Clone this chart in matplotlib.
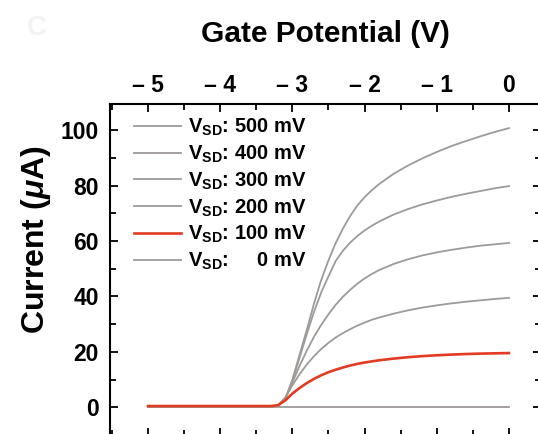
import matplotlib
matplotlib.use("Agg")
import matplotlib.pyplot as plt
from matplotlib.ticker import MultipleLocator, FuncFormatter

plt.rcParams['font.family'] = ['Liberation Sans', 'DejaVu Sans']
plt.rcParams['font.weight'] = 'bold'
plt.rcParams['mathtext.fontset'] = 'custom'
plt.rcParams['mathtext.rm'] = 'Liberation Sans:bold'
plt.rcParams['mathtext.bf'] = 'Liberation Sans:bold'
plt.rcParams['mathtext.it'] = 'Liberation Sans:bold:italic'

# gate potential (V)
gate_v = [-5, -3.3, -3.2, -3.1, -3.0, -2.9, -2.8, -2.7, -2.6, -2.5, -2.4,
          -2.3, -2.2, -2.1, -2.0, -1.9, -1.8, -1.6, -1.4, -1.2, -1.0,
          -0.8, -0.6, -0.4, -0.2, 0]

# current (uA) per source-drain voltage
i_500 = [0.3, 0.3, 0.7, 3, 10, 19, 28, 37.5, 46, 53, 59.3,
         64.5, 69, 72.8, 75.8, 78.3, 80.5, 84.2, 87.2, 89.8, 92.1,
         94.2, 96.0, 97.7, 99.3, 100.7]
i_400 = [0.3, 0.3, 0.7, 3, 9.5, 18, 26.5, 34.5, 41.5, 47.3, 52.8,
         56.5, 59.4, 61.8, 63.8, 65.5, 67.0, 69.5, 71.5, 73.2, 74.6,
         75.9, 77.0, 78.0, 79.0, 79.8]
i_300 = [0.3, 0.3, 0.7, 3, 9, 15, 20.5, 25.5, 29.8, 33.6, 37,
         39.9, 42.4, 44.6, 46.5, 48.1, 49.5, 51.7, 53.4, 54.8, 55.9,
         56.8, 57.6, 58.3, 58.8, 59.3]
i_200 = [0.3, 0.3, 0.7, 3.5, 8, 12, 15.5, 18.5, 21.1, 23.3, 25.2,
         26.8, 28.2, 29.5, 30.6, 31.6, 32.4, 33.8, 35.0, 36.0, 36.8,
         37.5, 38.1, 38.6, 39.1, 39.5]
i_100 = [0.5, 0.5, 0.8, 2.5, 5, 7, 8.8, 10.3, 11.6, 12.7, 13.6,
         14.4, 15.1, 15.7, 16.2, 16.6, 17.0, 17.6, 18.1, 18.5, 18.8,
         19.05, 19.25, 19.4, 19.5, 19.6]
i_0 = [0] * len(gate_v)

series = [("500", i_500), ("400", i_400), ("300", i_300),
          ("200", i_200), ("100", i_100), ("0", i_0)]

grey = '#9e9a98'
red = '#e33b22'

fig = plt.figure(figsize=(5.38, 4.34), dpi=100)
ax = fig.add_axes([0.2045, -0.0046, 0.801, 0.7650])

for vsd, cur in series:
    if vsd == "100":
        ax.plot(gate_v, cur, color=red, lw=1.9, zorder=5)
    else:
        ax.plot(gate_v, cur, color=grey, lw=1.3, zorder=3)

ax.set_xlim(-5.526, 0.443)
ax.set_ylim(-10.3, 109.4)

for s in ax.spines.values():
    s.set_linewidth(1.5)

ax.xaxis.set_major_locator(MultipleLocator(1))
ax.xaxis.set_minor_locator(MultipleLocator(0.5))
ax.yaxis.set_major_locator(MultipleLocator(20))
ax.yaxis.set_minor_locator(MultipleLocator(10))
ax.xaxis.set_major_formatter(FuncFormatter(
    lambda v, p: "0" if abs(v) < 1e-9 else "\u2013 %d" % abs(round(v))))

ax.tick_params(which='both', direction='in', top=True, bottom=True,
               left=True, right=True, width=1.3,
               labeltop=True, labelbottom=False, labelsize=16.5)
ax.tick_params(which='major', length=6)
ax.tick_params(which='minor', length=4)
ax.tick_params(axis='x', pad=5)
ax.tick_params(axis='y', pad=8)

ax.xaxis.set_label_position('top')
ax.set_xlabel("Gate Potential (V)", fontsize=21.5, fontweight='bold', labelpad=23)
ax.set_ylabel(r"Current ($\mu$A)", fontsize=23, fontweight='bold')
ax.yaxis.set_label_coords(-0.132, 0.59)

# legend
handles = []
labels = []
for vsd, cur in series:
    col = red if vsd == "100" else grey
    lw = 1.9 if vsd == "100" else 1.3
    handles.append(plt.Line2D([], [], color=col, lw=lw))
    txt = vsd if len(vsd) == 3 else "\u2007\u2007" + vsd
    labels.append(r"V$_{\mathrm{SD}}$: " + txt + " mV")
ax.legend(handles, labels, loc='upper left', bbox_to_anchor=(0.038, 0.985),
          frameon=False, fontsize=14.5, handlelength=2.3, handletextpad=0.35,
          labelspacing=0.27, borderaxespad=0)

fig.text(0.05, 0.92, "C", fontsize=20, color='#f3f3f3', fontweight='bold')

fig.savefig("out.png", dpi=100)
